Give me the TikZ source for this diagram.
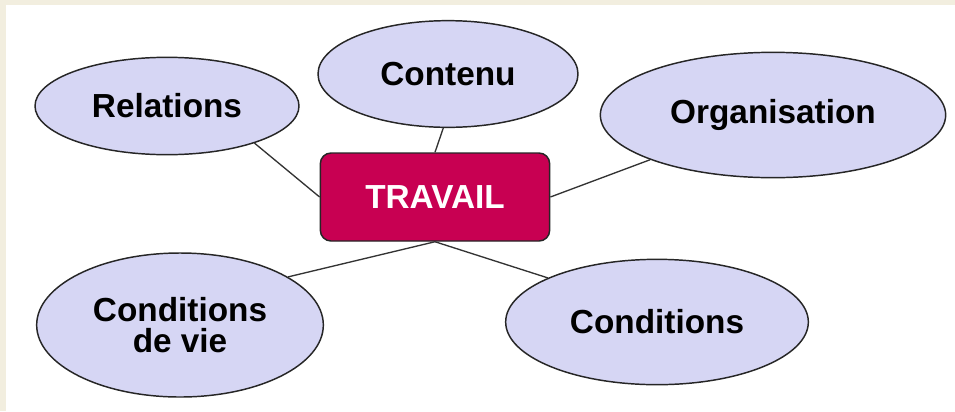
\documentclass[tikz,border=0pt]{standalone}
\usepackage{fontspec}
\setmainfont{Liberation Sans}
\usetikzlibrary{shapes.geometric}
\definecolor{lavande}{RGB}{214,214,244}
\definecolor{framboise}{RGB}{200,0,82}
\definecolor{papier}{RGB}{242,238,223}

\begin{document}
\begin{tikzpicture}[x=0.75pt, y=-0.75pt, font=\bfseries\fontsize{25}{23}\selectfont,
	bulle/.style={ellipse, draw=black!85, fill=lavande, line width=1.1pt, inner sep=0pt, align=center},
	centre/.style={rounded corners=8pt, draw=black!85, fill=framboise, text=white, line width=1.1pt, inner sep=0pt},
	lien/.style={draw=black!80, line width=1pt}]
			% fond
			\fill[papier] (0,0) rectangle (955,411);
			\fill[white] (6,5) rectangle (955,411);
			% noeud central
			\node[centre, minimum width=172pt, minimum height=66pt] (travail) at (435,197) {TRAVAIL};
			% bulles autour
			\node[bulle, minimum width=198pt, minimum height=73pt] (relations) at (167,106) {Relations};
			\node[bulle, minimum width=195pt, minimum height=80pt] (contenu) at (448,74) {Contenu};
			\node[bulle, minimum width=259pt, minimum height=94pt] (organisation) at (773,115) {Organisation};
			\node[bulle, minimum width=215pt, minimum height=108pt] (vie) at (180,325) {Conditions\\de vie};
			\node[bulle, minimum width=227pt, minimum height=94pt] (conditions) at (657,322) {Conditions};
			% liens
			\draw[lien] (travail.west) -- (relations.-23);
			\draw[lien] (travail.north) -- (contenu.-95);
			\draw[lien] (travail.east) -- (organisation.200);
			\draw[lien] (travail.south) -- (vie.24);
			\draw[lien] (travail.south) -- (conditions.158);
		\end{tikzpicture}
\end{document}
